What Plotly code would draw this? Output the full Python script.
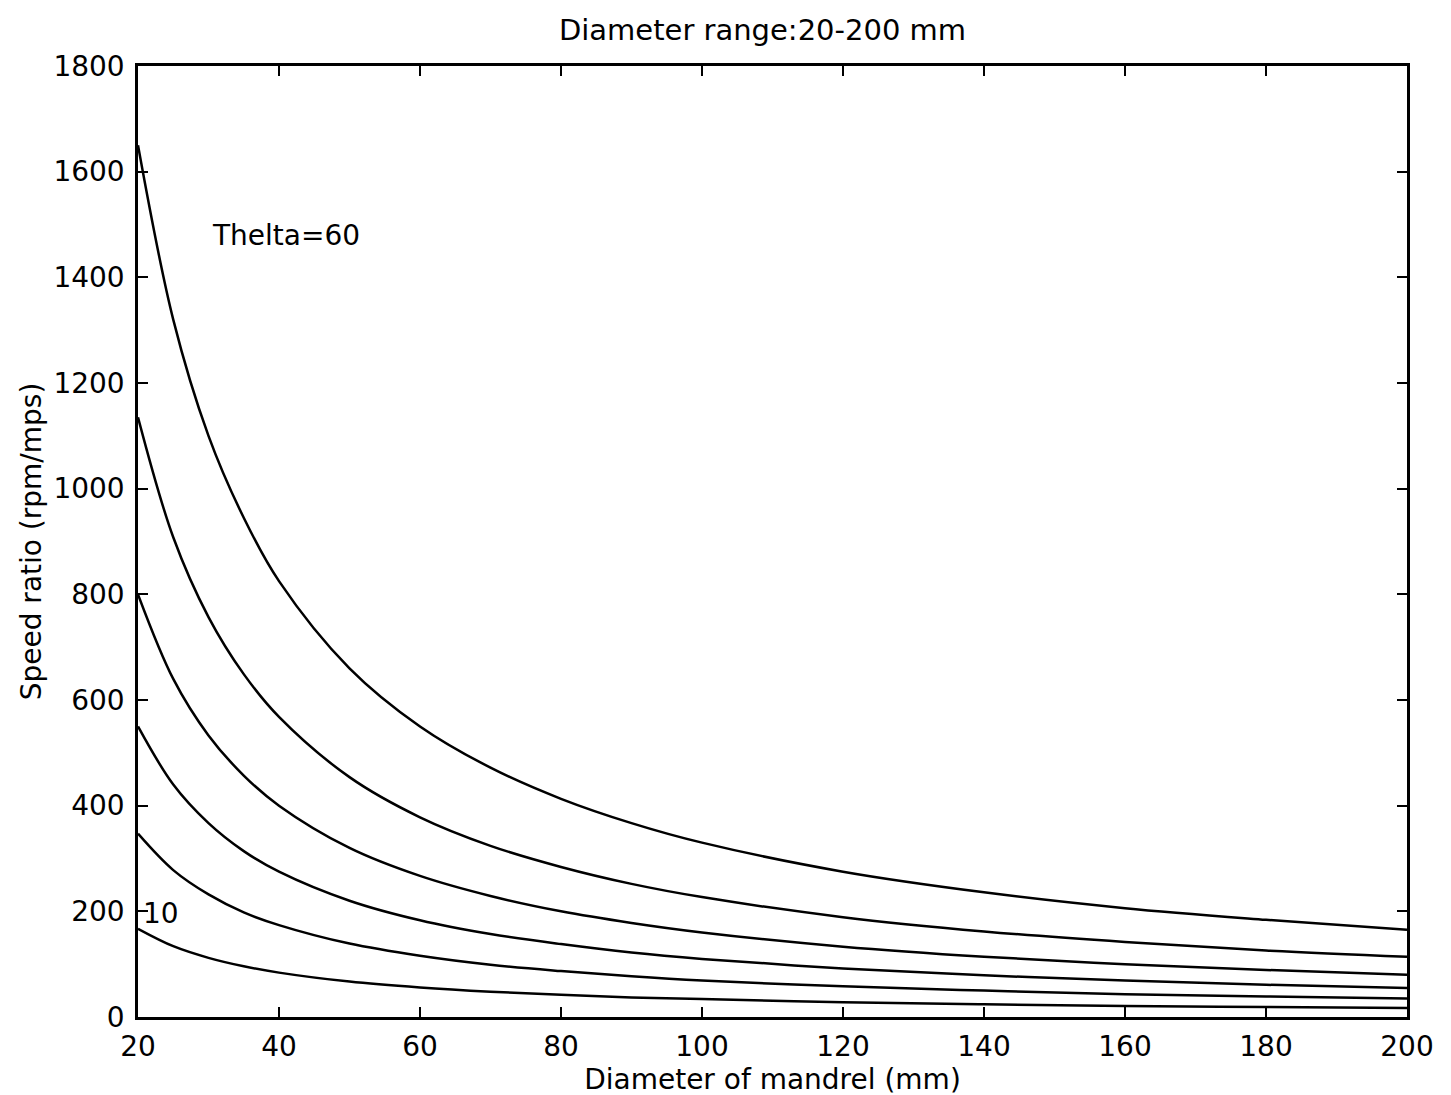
import plotly.graph_objects as go

# Diameter of mandrel (mm) sample points
diameter = [20, 25, 30, 35, 40, 50, 60, 70, 80, 90, 100, 120, 140, 160, 180, 200]

# Speed ratio (rpm/mps), one series per theta (10..60)
theta_labels = ["10", "20", "30", "40", "50", "60"]
ratio_10 = [167, 134, 112, 96, 84, 67, 56, 48, 42, 37, 34, 28, 24, 21, 19, 17]
ratio_20 = [347, 278, 232, 198, 174, 139, 116, 99, 87, 77, 69, 58, 50, 43, 39, 35]
ratio_30 = [550, 440, 367, 314, 275, 220, 183, 157, 138, 122, 110, 92, 79, 69, 61, 55]
ratio_40 = [800, 640, 533, 457, 400, 320, 267, 229, 200, 178, 160, 133, 114, 100, 89, 80]
ratio_50 = [1135, 908, 757, 649, 568, 454, 378, 324, 284, 252, 227, 189, 162, 142, 126, 114]
ratio_60 = [1650, 1320, 1100, 945, 825, 660, 550, 472, 413, 367, 330, 275, 236, 206, 184, 165]
series = [ratio_10, ratio_20, ratio_30, ratio_40, ratio_50, ratio_60]

x_ticks = [20, 40, 60, 80, 100, 120, 140, 160, 180, 200]
y_ticks = [0, 200, 400, 600, 800, 1000, 1200, 1400, 1600, 1800]

FONT = "DejaVu Sans, Liberation Sans, Arial, sans-serif"

fig = go.Figure()
for name, ys in zip(theta_labels, series):
    fig.add_trace(go.Scatter(
        x=diameter, y=ys, mode="lines", name=name,
        line=dict(color="black", width=2.5, shape="spline", smoothing=1.0),
        showlegend=False, hoverinfo="skip"))

fig.add_annotation(x=30.2, y=1480, text="Thelta=60", showarrow=False,
                   xanchor="left", yanchor="middle",
                   font=dict(family=FONT, size=28, color="black"))
fig.add_annotation(x=20.4, y=195, text="10", showarrow=False,
                   xanchor="left", yanchor="middle",
                   font=dict(family=FONT, size=28, color="black"))

axis_common = dict(
    showgrid=False, zeroline=False, showline=True, linecolor="black",
    linewidth=2.5, mirror="ticks", ticks="inside", ticklen=10, tickwidth=2,
    tickcolor="black", tickfont=dict(family=FONT, size=28, color="black"))

fig.update_xaxes(range=[20, 200], tickvals=x_ticks, ticklabelstandoff=3,
                 title=dict(text="Diameter of mandrel (mm)", standoff=0,
                            font=dict(family=FONT, size=28, color="black")),
                 **axis_common)
fig.update_yaxes(range=[0, 1800], tickvals=y_ticks, ticklabelstandoff=5,
                 title=dict(text="Speed ratio (rpm/mps)", standoff=4,
                            font=dict(family=FONT, size=28, color="black")),
                 **axis_common)

fig.update_layout(
    width=1451, height=1095,
    margin=dict(l=130, r=52, t=58, b=86),
    paper_bgcolor="white", plot_bgcolor="white",
    title=dict(text="Diameter range:20-200 mm", x=0.52, xanchor="center",
               y=0.98, yanchor="middle",
               font=dict(family=FONT, size=29, color="black")),
)

fig.write_html("out.html")
